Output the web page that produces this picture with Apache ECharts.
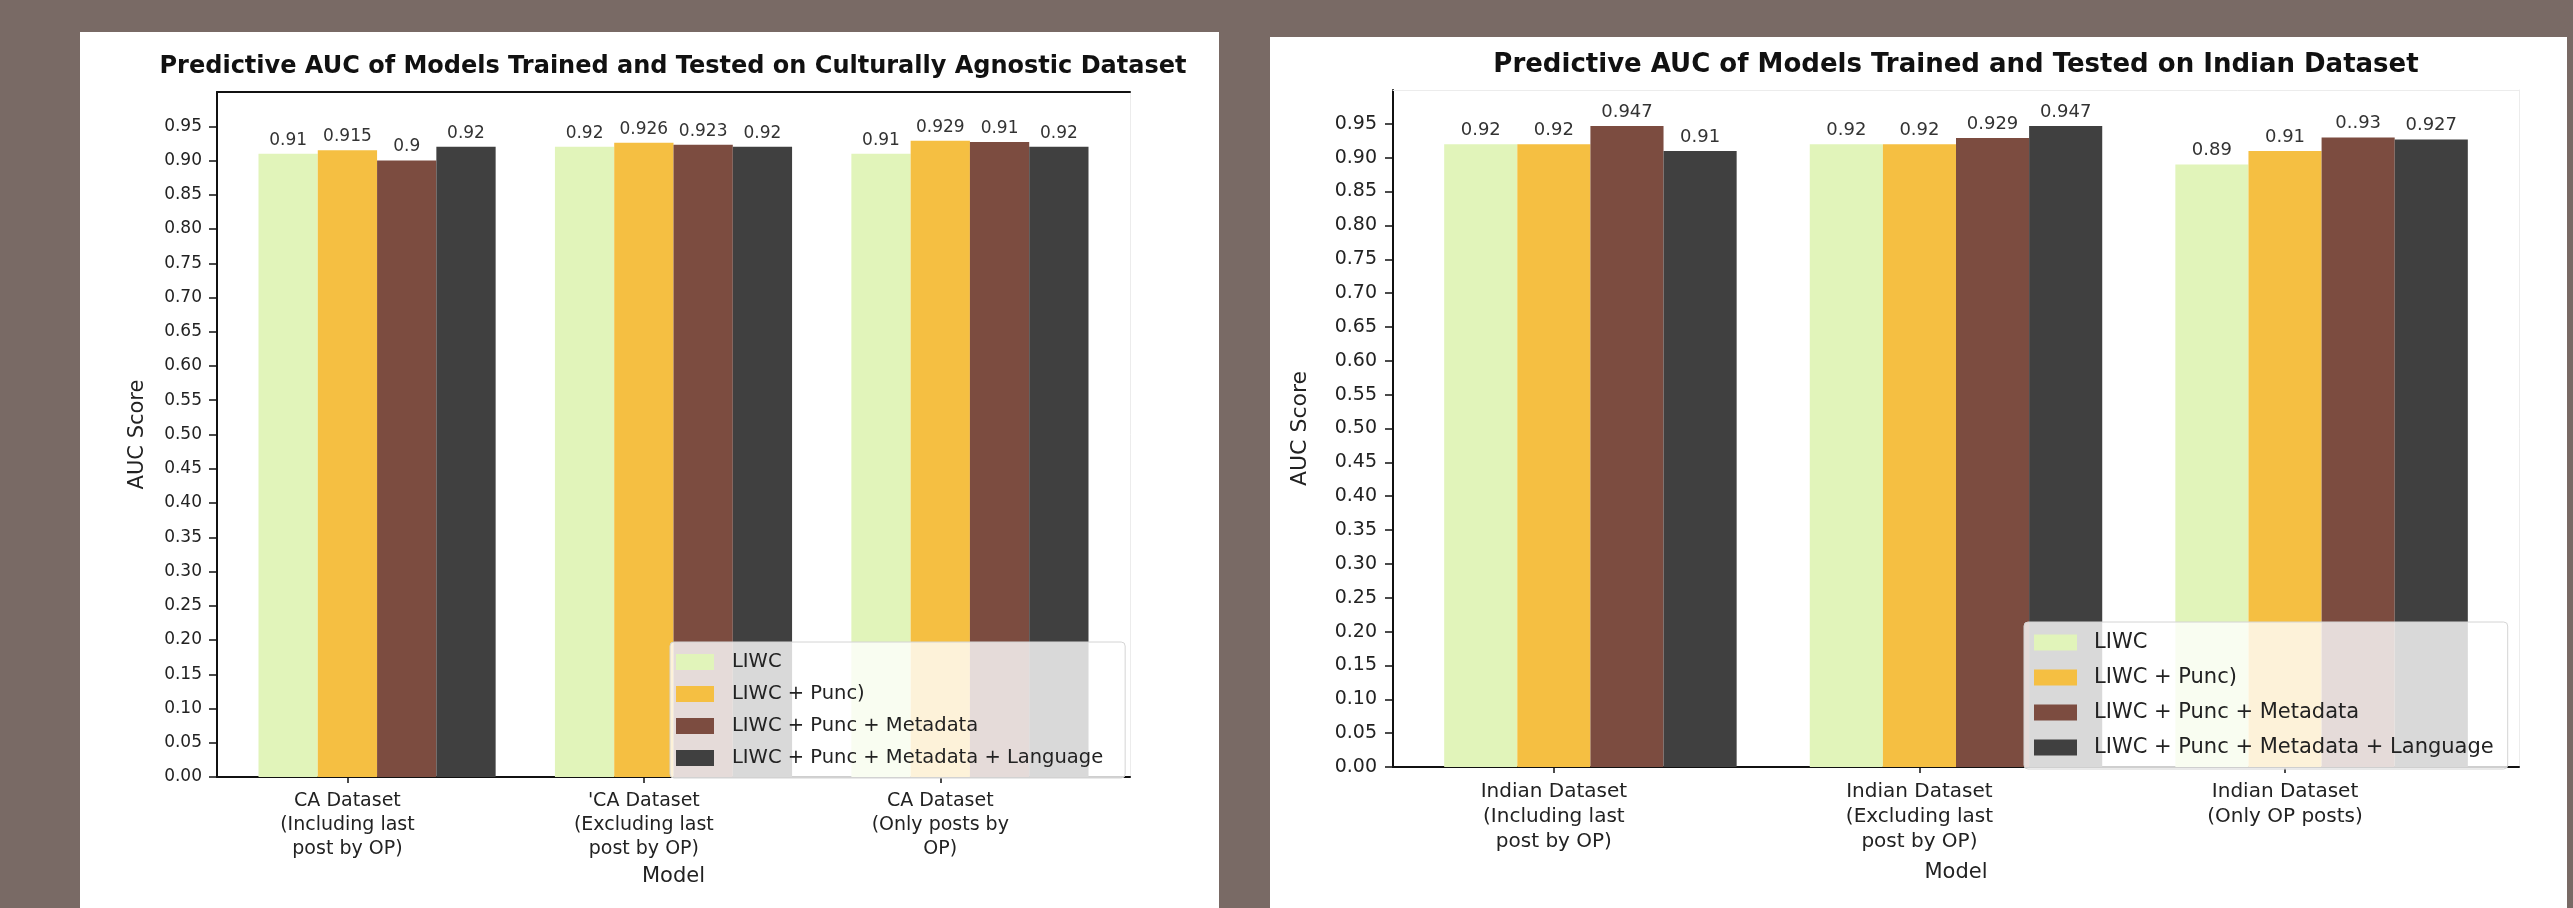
<!DOCTYPE html>
<html>
<head>
<meta charset="utf-8">
<script src="https://cdn.jsdelivr.net/npm/echarts@6/dist/echarts.min.js"></script>
<style>
  html, body { margin: 0; padding: 0; width: 2573px; height: 908px; overflow: hidden; background: #796a65; }
  .panel { position: absolute; background: #fff; }
  #left { left: 80px; top: 32px; width: 1139px; height: 876px; }
  #right { left: 1270px; top: 37px; width: 1297px; height: 871px; }
</style>
</head>
<body>
<div id="left" class="panel"></div>
<div id="right" class="panel"></div>
<script>
const FONT = 'DejaVu Sans';

const seriesNames = ['LIWC', 'LIWC + Punc)', 'LIWC + Punc + Metadata', 'LIWC + Punc + Metadata + Language'];
const seriesColors = ['#e1f4ba', '#f5bf42', '#7c4c40', '#404040'];
const yTicks = [0, 0.05, 0.1, 0.15, 0.2, 0.25, 0.3, 0.35, 0.4, 0.45, 0.5, 0.55, 0.6, 0.65, 0.7, 0.75, 0.8, 0.85, 0.9, 0.95];
const xTicks = [0, 1, 2];

// culturally agnostic dataset
const caCategories = ['CA Dataset\n(Including last\npost by OP)', "'CA Dataset\n(Excluding last\npost by OP)", 'CA Dataset\n(Only posts by\nOP)'];
const caLiwc = [0.91, 0.92, 0.91];
const caPunc = [0.915, 0.926, 0.929];
const caMeta = [0.9, 0.923, 0.927];
const caLang = [0.92, 0.92, 0.92];
const caLiwcText = ['0.91', '0.92', '0.91'];
const caPuncText = ['0.915', '0.926', '0.929'];
const caMetaText = ['0.9', '0.923', '0.91'];
const caLangText = ['0.92', '0.92', '0.92'];

// indian dataset
const inCategories = ['Indian Dataset\n(Including last\npost by OP)', 'Indian Dataset\n(Excluding last\npost by OP)', 'Indian Dataset\n(Only OP posts)'];
const inLiwc = [0.92, 0.92, 0.89];
const inPunc = [0.92, 0.92, 0.91];
const inMeta = [0.947, 0.929, 0.93];
const inLang = [0.91, 0.947, 0.927];
const inLiwcText = ['0.92', '0.92', '0.89'];
const inPuncText = ['0.92', '0.92', '0.91'];
const inMetaText = ['0.947', '0.929', '0..93'];
const inLangText = ['0.91', '0.947', '0.927'];

function buildOption(c) {
  const s = c.plotW / 3.08;
  return {
    animation: false,
    title: {
      text: c.title,
      left: c.titleX,
      top: c.titleTop,
      textAlign: 'center',
      padding: 0,
      textStyle: { fontFamily: FONT, fontWeight: 'bold', fontSize: c.titleSize, lineHeight: c.titleSize, color: '#111' }
    },
    legend: {
      data: seriesNames,
      orient: 'vertical',
      left: c.legL,
      top: c.legT,
      icon: 'rect',
      itemWidth: c.legIconW,
      itemHeight: c.legIconH,
      itemGap: c.legGap,
      padding: c.legPad,
      selectedMode: false,
      backgroundColor: 'rgba(255,255,255,0.8)',
      borderColor: '#d4d4d4',
      borderWidth: 1,
      borderRadius: 4,
      textStyle: { fontFamily: FONT, fontSize: c.legSize, lineHeight: 18, color: '#222', padding: [0, 0, 0, c.legTextPad] }
    },
    grid: [
      { left: c.plotL, top: c.plotT, width: c.plotW, height: c.plotH, outerBoundsMode: 'none' },
      { left: c.plotL + 0.04 * s, top: c.plotT, width: 3 * s, height: c.plotH, outerBoundsMode: 'none' }
    ],
    xAxis: [
      {
        gridIndex: 0, type: 'value', min: -0.44, max: 2.64, position: 'bottom',
        axisLine: { show: true, onZero: false, lineStyle: { color: '#111', width: 2 } },
        axisTick: { show: true, customValues: xTicks, length: 6, lineStyle: { color: '#111', width: 1.5 } },
        axisLabel: {
          customValues: xTicks, formatter: v => c.categories[Math.round(v)],
          fontFamily: FONT, fontSize: c.xLabSize, lineHeight: c.xLabLH, color: '#222', margin: c.xLabMargin, align: 'center'
        },
        splitLine: { show: false },
        name: 'Model', nameLocation: 'middle', nameGap: c.xNameGap,
        nameTextStyle: { fontFamily: FONT, fontSize: c.nameSize, color: '#222' }
      },
      {
        gridIndex: 0, type: 'value', min: -0.44, max: 2.64, position: 'top',
        axisLine: { show: true, onZero: false, lineStyle: { color: c.topColor, width: c.topWidth } },
        axisTick: { show: false }, axisLabel: { show: false }, splitLine: { show: false }
      },
      { gridIndex: 1, type: 'category', data: c.categories, show: false }
    ],
    yAxis: [
      {
        gridIndex: 0, type: 'value', min: 0, max: 1, position: 'left',
        axisLine: { show: true, onZero: false, lineStyle: { color: '#111', width: 2 } },
        axisTick: { show: true, customValues: yTicks, length: 8, lineStyle: { color: '#111', width: 1.5 } },
        axisLabel: {
          customValues: yTicks, formatter: v => v.toFixed(2),
          fontFamily: FONT, fontSize: c.yLabSize, color: '#222', margin: c.yLabMargin
        },
        splitLine: { show: false },
        name: 'AUC Score', nameLocation: 'middle', nameRotate: 90, nameGap: c.yNameGap,
        nameTextStyle: { fontFamily: FONT, fontSize: c.yNameSize, color: '#222' }
      },
      {
        gridIndex: 0, type: 'value', min: 0, max: 1, position: 'right',
        axisLine: { show: true, onZero: false, lineStyle: { color: '#ececec', width: 1 } },
        axisTick: { show: false }, axisLabel: { show: false }, splitLine: { show: false }
      },
      { gridIndex: 1, type: 'value', min: 0, max: 1, show: false }
    ],
    series: c.values.map((vals, i) => ({
      type: 'bar',
      name: seriesNames[i],
      xAxisIndex: 2,
      yAxisIndex: 2,
      data: vals,
      barGap: '0%',
      barCategoryGap: '20%',
      itemStyle: { color: seriesColors[i] },
      label: {
        show: true, position: 'top', distance: 5,
        formatter: p => c.labels[i][p.dataIndex],
        fontFamily: FONT, fontSize: c.barLabSize, color: '#333'
      }
    }))
  };
}

const leftChart = echarts.init(document.getElementById('left'));
leftChart.setOption(buildOption({
  title: 'Predictive AUC of Models Trained and Tested on Culturally Agnostic Dataset',
  titleX: 593, titleTop: 23, titleSize: 24,
  categories: caCategories,
  values: [caLiwc, caPunc, caMeta, caLang],
  labels: [caLiwcText, caPuncText, caMetaText, caLangText],
  plotL: 137, plotT: 60, plotW: 913, plotH: 685,
  topColor: '#111', topWidth: 2,
  legL: 590, legT: 610, legIconW: 38, legIconH: 16, legGap: 12, legPad: [10, 22, 10, 6], legSize: 19.5, legTextPad: 13,
  xLabSize: 19, xLabLH: 24, xLabMargin: 12, xNameGap: 89, nameSize: 21,
  yLabSize: 17, yLabMargin: 15, yNameGap: 69, yNameSize: 21,
  barLabSize: 17
}));

const rightChart = echarts.init(document.getElementById('right'));
rightChart.setOption(buildOption({
  title: 'Predictive AUC of Models Trained and Tested on Indian Dataset',
  titleX: 686, titleTop: 15, titleSize: 26,
  categories: inCategories,
  values: [inLiwc, inPunc, inMeta, inLang],
  labels: [inLiwcText, inPuncText, inMetaText, inLangText],
  plotL: 123, plotT: 53, plotW: 1126, plotH: 677,
  topColor: '#ececec', topWidth: 1,
  legL: 754, legT: 585, legIconW: 43, legIconH: 16, legGap: 14, legPad: [10, 14, 11, 10], legSize: 21, legTextPad: 12,
  xLabSize: 20, xLabLH: 25, xLabMargin: 12, xNameGap: 95, nameSize: 21,
  yLabSize: 19, yLabMargin: 16, yNameGap: 82, yNameSize: 22,
  barLabSize: 18
}));
</script>
</body>
</html>
